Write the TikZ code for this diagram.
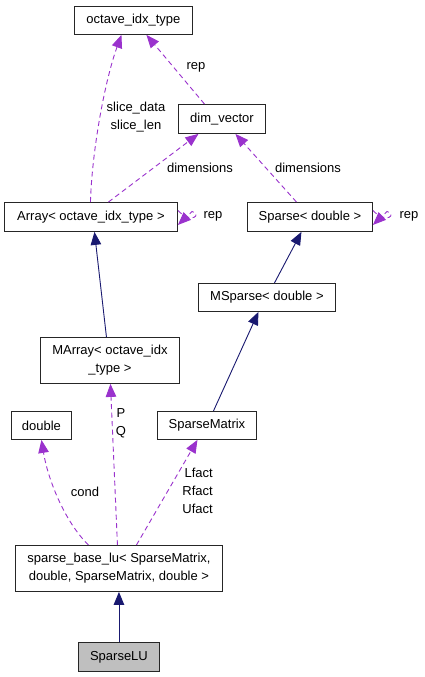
\documentclass[tikz,border=0pt]{standalone}
\usepackage{fontspec}
\setmainfont{Liberation Sans}
\usetikzlibrary{arrows.meta}
\definecolor{edgepurple}{HTML}{9A32CD}
\definecolor{edgenavy}{HTML}{191970}
\definecolor{boxgray}{HTML}{BFBFBF}
\begin{document}
\begin{tikzpicture}[x=1pt,y=-1pt,
  font=\fontsize{13}{18}\selectfont,
  cls/.style={draw=black!85, line width=0.9pt, fill=white, inner sep=0pt, align=center, anchor=north west},
  use/.style={draw=edgepurple, line width=0.9pt, dash pattern=on 5pt off 3.5pt, -{Triangle[length=13pt,width=10.5pt]}},
  inh/.style={draw=edgenavy, line width=0.9pt, -{Triangle[length=13pt,width=10.5pt]}},
  lbl/.style={inner sep=0pt, align=center}
]
\useasboundingbox (0,0) rectangle (424,677);
\fill[white] (0,0) rectangle (424,677);

% nodes
\node[cls, minimum width=118pt, minimum height=28pt] (oct) at (74,6) {octave\_idx\_type};
\node[cls, minimum width=87pt, minimum height=29pt] (dim) at (178,104) {dim\_vector};
\node[cls, minimum width=173pt, minimum height=29pt] (arr) at (4,202) {Array< octave\_idx\_type >};
\node[cls, minimum width=125pt, minimum height=29pt] (sp) at (247,202) {Sparse< double >};
\node[cls, minimum width=137pt, minimum height=28pt] (msp) at (198,283) {MSparse< double >};
\node[cls, minimum width=139pt, minimum height=46pt] (mar) at (40,337) {MArray< octave\_idx\\\_type >};
\node[cls, minimum width=60pt, minimum height=28pt] (dbl) at (11,411) {double};
\node[cls, minimum width=99pt, minimum height=28pt] (smx) at (157,411) {SparseMatrix};
\node[cls, minimum width=207pt, minimum height=46pt] (sbl) at (15,545) {sparse\_base\_lu< SparseMatrix,\\ double, SparseMatrix, double >};
\node[cls, fill=boxgray, minimum width=81pt, minimum height=29pt] (slu) at (78,642) {SparseLU};

% usage edges
\draw[use] ([xshift=-0.5pt]arr.north) .. controls (92,150) and (105,80) .. ([xshift=-12pt]oct.south);
\node[lbl] (l1) at (136,117) {slice\_data\\slice\_len};
\draw[use] ([xshift=-17.5pt]dim.north) -- ([xshift=13pt]oct.south);
\node[lbl] (l2) at (196,67) {rep};
\draw[use] ([xshift=17.5pt]arr.north) -- ([xshift=-23.5pt]dim.south);
\node[lbl] (l3) at (200,168) {dimensions};
\draw[use] ([xshift=-13.5pt]sp.north) -- ([xshift=13.5pt]dim.south);
\node[lbl] (l4) at (308,168) {dimensions};
\draw[use] ([yshift=6.5pt]arr.east) .. controls (192,225) and (202,214) .. (192,211.5) -- ([yshift=-8pt]arr.east);
\node[lbl] (l5) at (213,216) {rep};
\draw[use] ([yshift=6.5pt]sp.east) .. controls (387,225) and (397,214) .. (387,211.5) -- ([yshift=-8pt]sp.east);
\node[lbl] (l6) at (409,216) {rep};

\draw[use] ([xshift=-30.5pt]sbl.north) .. controls (65,522) and (48,480) .. (dbl.south);
\node[lbl] (l7) at (85,492) {cond};
\draw[use] ([xshift=-1.5pt]sbl.north) -- ([xshift=0.5pt]mar.south);
\node[lbl] (l8) at (121,423) {P\\Q};
\draw[use] ([xshift=17.5pt]sbl.north) -- ([xshift=-9.5pt]smx.south);
\node[lbl, align=right, anchor=east] (l9) at (213,491) {Lfact\\Rfact\\Ufact};

% inheritance edges
\draw[inh] ([xshift=7.5pt]msp.north) -- ([xshift=-8.5pt]sp.south);
\draw[inh] ([xshift=-3.5pt]mar.north) -- ([xshift=3.5pt]arr.south);
\draw[inh] ([xshift=6.5pt]smx.north) -- ([xshift=-8.5pt]msp.south);
\draw[inh] (slu.north) -- (sbl.south);
\end{tikzpicture}
\end{document}
